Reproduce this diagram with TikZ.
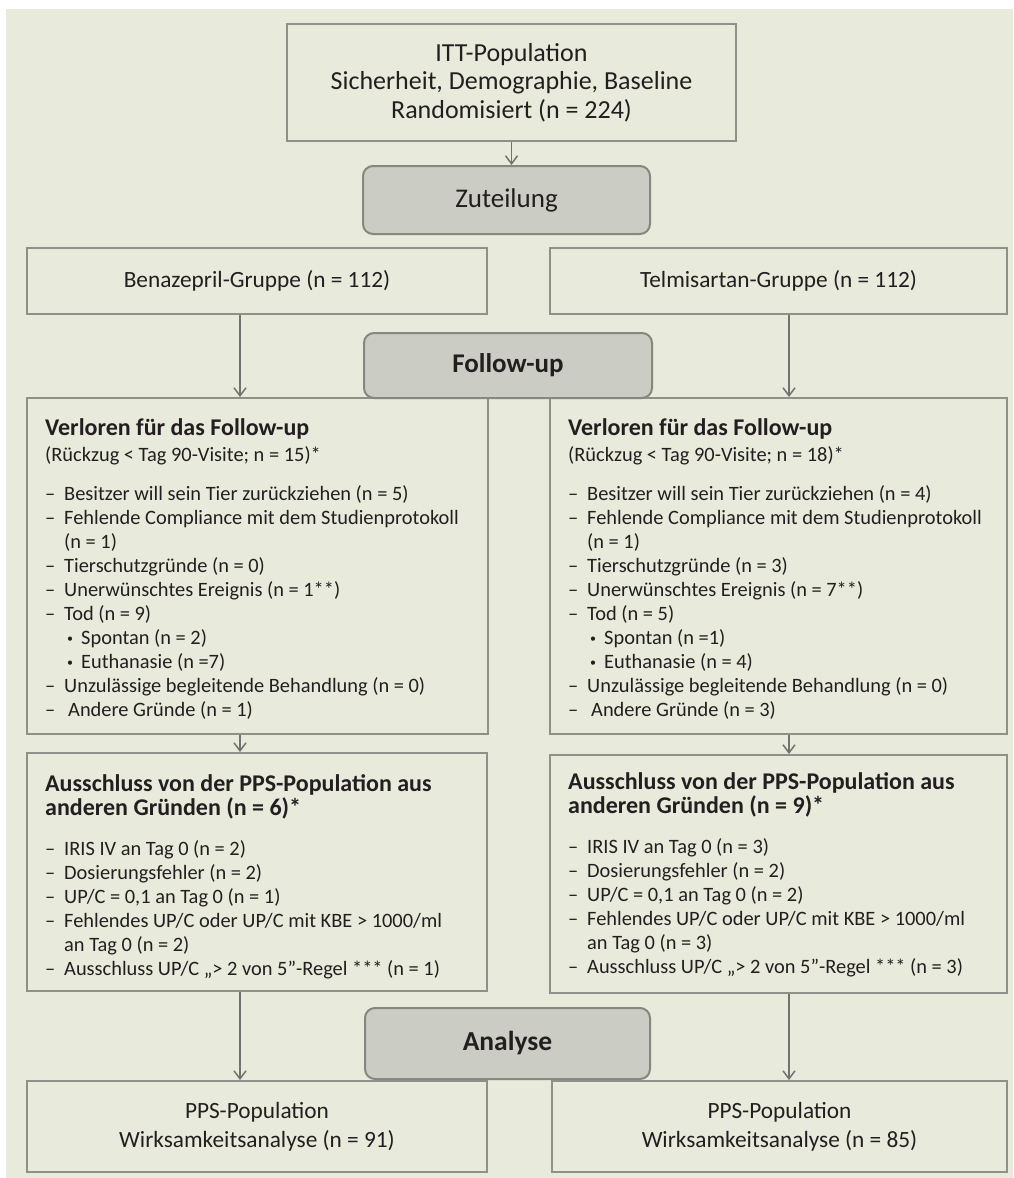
\documentclass[tikz,border=0pt]{standalone}
\usepackage{fontspec}
\setmainfont{Carlito}
\usetikzlibrary{arrows.meta}
\definecolor{bg}{HTML}{E8EADB}
\definecolor{bord}{HTML}{8F9088}
\definecolor{gfill}{HTML}{CBCCC3}
\definecolor{gbord}{HTML}{86877F}
\definecolor{txt}{HTML}{231F20}
\definecolor{arr}{HTML}{727270}
\newcommand{\dashitem}[1]{\makebox[19pt][l]{–}#1}
\newcommand{\contline}[1]{\hspace*{19pt}#1}
\newcommand{\bulitem}[1]{\hspace*{22pt}\makebox[14pt][l]{\raisebox{1.5pt}{\fontsize{12}{12}\selectfont •}}#1}
\newcommand{\hd}[1]{{\fontsize{24}{24}\selectfont\bfseries #1}}
\begin{document}
\begin{tikzpicture}[x=1pt,y=-1pt,
  box/.style={draw=bord, line width=2pt, fill=bg, inner sep=0pt, anchor=north west, text=txt, align=center},
  phase/.style={draw=gbord, line width=2pt, fill=gfill, rounded corners=10pt, inner sep=0pt, anchor=north west, text=txt},
  flow/.style={draw=arr, line width=1.5pt, -{Straight Barb[length=8pt,width=12pt,line width=1.5pt]}},
  listtext/.style={anchor=north west, inner sep=0pt, align=left, text=txt, font=\fontsize{20.4}{24}\selectfont},
  itttext/.style={font=\fontsize{26}{28.5}\selectfont},
  grptext/.style={font=\fontsize{23.3}{29}\selectfont}
]
\useasboundingbox (0,0) rectangle (1013,1178);
\fill[white] (0,0) rectangle (1013,1178);
\fill[bg] (6,9) rectangle (1013,1178);

% boxes
\node[box, itttext, minimum width=449pt, minimum height=117pt] (itt) at (286,23)
  {ITT-Population\\Sicherheit, Demographie, Baseline\\Randomisiert (n = 224)};
\node[box, grptext, minimum width=460pt, minimum height=66pt] (ben) at (26,247) {Benazepril-Gruppe (n = 112)};
\node[box, grptext, minimum width=457pt, minimum height=66pt] (tel) at (549,247) {Telmisartan-Gruppe (n = 112)};
\node[box, minimum width=461pt, minimum height=336pt] (lv) at (26,397) {};
\node[box, minimum width=457pt, minimum height=336pt] (rv) at (549,397) {};
\node[box, minimum width=460pt, minimum height=238pt] (la) at (26,752) {};
\node[box, minimum width=457pt, minimum height=238pt] (ra) at (549,754) {};
\node[box, grptext, minimum width=460pt, minimum height=91pt] (lp) at (26,1080) {PPS-Population\\Wirksamkeitsanalyse (n = 91)};
\node[box, grptext, minimum width=455pt, minimum height=91pt] (rp) at (551,1080) {PPS-Population\\Wirksamkeitsanalyse (n = 85)};

% list texts
\node[listtext] (lvt) at (45,418) {\hd{Verloren für das Follow-up}\\[2pt]
(Rückzug < Tag 90-Visite; n = 15)*\\[15pt]
\dashitem{Besitzer will sein Tier zurückziehen (n = 5)}\\
\dashitem{Fehlende Compliance mit dem Studienprotokoll}\\
\contline{(n = 1)}\\
\dashitem{Tierschutzgründe (n = 0)}\\
\dashitem{Unerwünschtes Ereignis (n = 1**)}\\
\dashitem{Tod (n = 9)}\\
\bulitem{Spontan (n = 2)}\\
\bulitem{Euthanasie (n =7)}\\
\dashitem{Unzulässige begleitende Behandlung (n = 0)}\\
\dashitem{\hspace{4pt}Andere Gründe (n = 1)}};

\node[listtext] (rvt) at (568,418) {\hd{Verloren für das Follow-up}\\[2pt]
(Rückzug < Tag 90-Visite; n = 18)*\\[15pt]
\dashitem{Besitzer will sein Tier zurückziehen (n = 4)}\\
\dashitem{Fehlende Compliance mit dem Studienprotokoll}\\
\contline{(n = 1)}\\
\dashitem{Tierschutzgründe (n = 3)}\\
\dashitem{Unerwünschtes Ereignis (n = 7**)}\\
\dashitem{Tod (n = 5)}\\
\bulitem{Spontan (n =1)}\\
\bulitem{Euthanasie (n = 4)}\\
\dashitem{Unzulässige begleitende Behandlung (n = 0)}\\
\dashitem{\hspace{4pt}Andere Gründe (n = 3)}};

\node[listtext] (lat) at (45,774) {\hd{Ausschluss von der PPS-Population aus}\\
\hd{anderen Gründen (n = 6)*}\\[16pt]
\dashitem{IRIS IV an Tag 0 (n = 2)}\\
\dashitem{Dosierungsfehler (n = 2)}\\
\dashitem{UP/C = 0,1 an Tag 0 (n = 1)}\\
\dashitem{Fehlendes UP/C oder UP/C mit KBE > 1000/ml}\\
\contline{an Tag 0 (n = 2)}\\
\dashitem{Ausschluss UP/C „> 2 von 5”-Regel *** (n = 1)}};

\node[listtext] (rat) at (568,772) {\hd{Ausschluss von der PPS-Population aus}\\
\hd{anderen Gründen (n = 9)*}\\[16pt]
\dashitem{IRIS IV an Tag 0 (n = 3)}\\
\dashitem{Dosierungsfehler (n = 2)}\\
\dashitem{UP/C = 0,1 an Tag 0 (n = 2)}\\
\dashitem{Fehlendes UP/C oder UP/C mit KBE > 1000/ml}\\
\contline{an Tag 0 (n = 3)}\\
\dashitem{Ausschluss UP/C „> 2 von 5”-Regel *** (n = 3)}};

% phase boxes
\node[phase, font=\fontsize{27}{30}\selectfont, minimum width=287pt, minimum height=68pt] (zut) at (362,165) {Zuteilung};
\node[phase, font=\fontsize{27}{30}\selectfont\bfseries, minimum width=288pt, minimum height=65pt] (fol) at (363,332) {Follow-up};
\node[phase, font=\fontsize{27.5}{30}\selectfont\bfseries, minimum width=285pt, minimum height=71pt] (ana) at (364,1007) {Analyse};

% connectors
\coordinate (xl) at (240,0);
\coordinate (xr) at (789,0);
\draw[flow] (itt.south) -- (itt.south |- zut.north);
\draw[flow] (ben.south -| xl) -- (lv.north -| xl);
\draw[flow] (tel.south -| xr) -- (rv.north -| xr);
\draw[flow] (lv.south -| xl) -- (la.north -| xl);
\draw[flow] (rv.south -| xr) -- (ra.north -| xr);
\draw[flow] (la.south -| xl) -- (lp.north -| xl);
\draw[flow] (ra.south -| xr) -- (rp.north -| xr);
\end{tikzpicture}
\end{document}
